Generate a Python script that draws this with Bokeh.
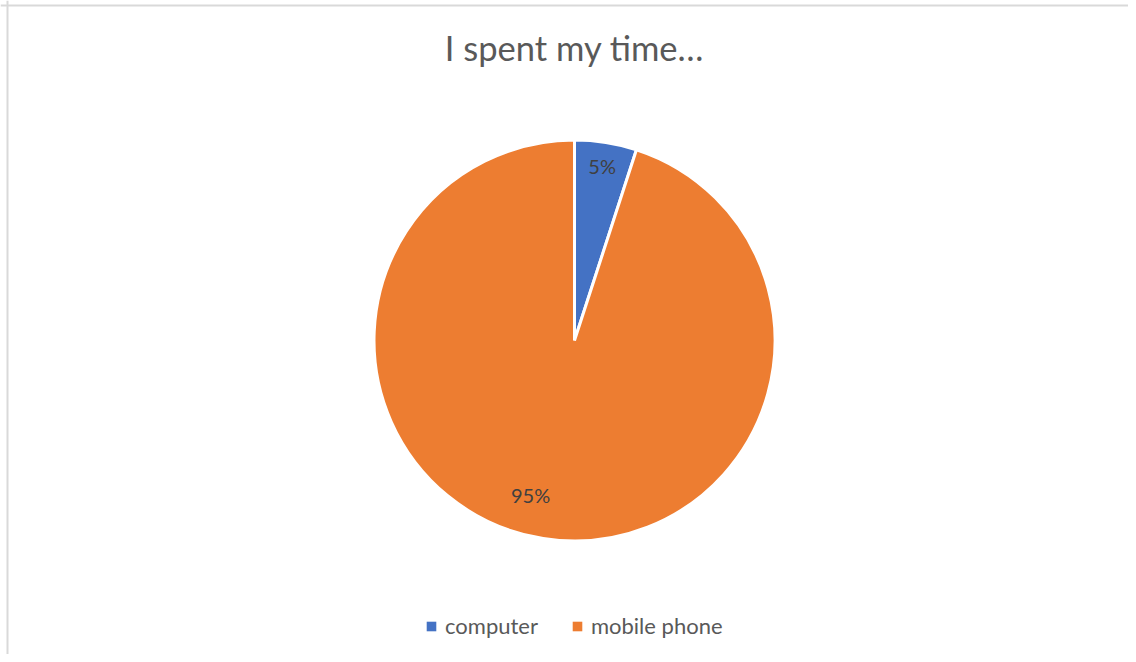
import numpy as np
from bokeh.plotting import figure
from bokeh.models import Legend, LegendItem, Span, Label, ColumnDataSource
from bokeh.core.properties import value
from bokeh.embed import file_html
from bokeh.resources import INLINE

title_text = "I spent my time…"
categories = ["computer", "mobile phone"]
shares = [5, 95]
colors = ["#4472C4", "#ED7D31"]

FONT = "Lato"
TXT = "#595959"

W, H = 1128, 654
p = figure(width=W, height=H, x_range=(0, W), y_range=(0, H),
           output_backend="svg", toolbar_location=None, min_border=0,
           tools="")
p.axis.visible = False
p.xgrid.visible = False
p.ygrid.visible = False
p.outline_line_color = None
p.background_fill_color = "white"
p.border_fill_color = "white"

# chart border (top and left visible)
p.add_layout(Span(location=7, dimension="height", line_color="#D9D9D9", line_width=2))
p.add_layout(Span(location=649, dimension="width", line_color="#D9D9D9", line_width=2))

cx, cy, r = 574, 314, 200.5
vals = np.array(shares, dtype=float)
frac = vals / vals.sum()
ends = np.cumsum(frac) * 2 * np.pi
starts = ends - frac * 2 * np.pi
start_ang = np.pi / 2 - starts
end_ang = np.pi / 2 - ends
mid = (start_ang + end_ang) / 2
# "best fit" label placement: radial fraction and angular nudge per slice
lab_rf = np.array([0.88, 0.80])
lab_da = np.array([0.0, -0.12])
la = mid + lab_da

src = ColumnDataSource(dict(cat=categories, color=colors,
                            cx=[cx] * len(categories), cy=[cy] * len(categories),
                            lx=cx + lab_rf * r * np.cos(la), ly=cy + lab_rf * r * np.sin(la),
                            lab=[f"{v:.0f}%" for v in frac * 100]))

# legend swatch renderer (zero-size markers)
sw = p.scatter(x="cx", y="cy", source=src, marker="square", size=0,
               fill_color="color", line_color=None)

for i in range(len(categories)):
    p.wedge(x=cx, y=cy, radius=r, start_angle=start_ang[i], end_angle=end_ang[i],
            direction="clock", fill_color=colors[i], line_color="white", line_width=3)

p.text(x="lx", y="ly", text="lab", source=src, text_align="center", text_baseline="middle",
       text_font=value(FONT), text_font_size="20px", text_color="#404040")

p.add_layout(Label(x=cx, y=607, text=title_text, text_align="center", text_baseline="alphabetic",
                   text_font=FONT, text_font_size="34.5px", text_color=TXT))

legend = Legend(items=[LegendItem(label=c, renderers=[sw], index=i) for i, c in enumerate(categories)],
                orientation="horizontal", location=(419, 15),
                glyph_width=24, glyph_height=24, label_standoff=2, spacing=27,
                padding=0, margin=0, border_line_color=None, background_fill_alpha=0,
                label_text_font=FONT, label_text_font_size="22px", label_text_color=TXT)
p.add_layout(legend, "center")

open("out.html", "w").write(file_html(p, INLINE))
